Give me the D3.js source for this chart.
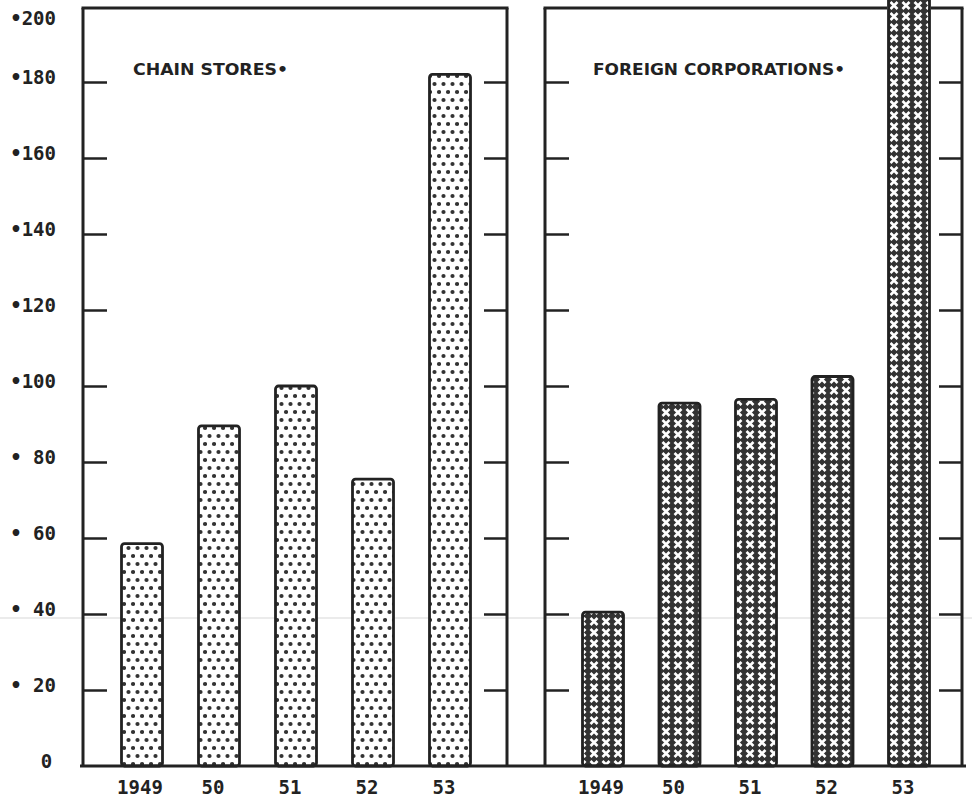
<!DOCTYPE html>
<html>
<head>
<meta charset="utf-8">
<script src="https://cdn.jsdelivr.net/npm/d3@7"></script>
<style>
  body { margin: 0; background: #fff; }
  svg { display: block; }
</style>
</head>
<body>
<div id="chart"></div>
<script>
// data
var years = ["1949", "50", "51", "52", "53"];
var chainStores = [58.5, 89.5, 100, 75.5, 182];
var foreignCorps = [40.5, 95.5, 96.5, 102.5, 212];
var yTicks = [0, 20, 40, 60, 80, 100, 120, 140, 160, 180, 200];
var titles = ["CHAIN STORES\u2022", "FOREIGN CORPORATIONS\u2022"];

var svgWidth = 972;
var svgHeight = 802;
var ink = "#222";

var svg = d3.select("#chart")
  .append("svg")
  .attr("width", svgWidth)
  .attr("height", svgHeight);

// patterns: dots for chain stores, white crosses for foreign corporations
var defs = svg.append("defs");

var dots = defs.append("pattern")
  .attr("id", "dots")
  .attr("patternUnits", "userSpaceOnUse")
  .attr("width", 9)
  .attr("height", 16);
dots.append("rect").attr("width", 9).attr("height", 16).attr("fill", "#fff");
dots.append("circle").attr("cx", 2.5).attr("cy", 4).attr("r", 2.1).attr("fill", "#333");
dots.append("circle").attr("cx", 7).attr("cy", 12).attr("r", 2.1).attr("fill", "#333");

var cross = defs.append("pattern")
  .attr("id", "cross")
  .attr("patternUnits", "userSpaceOnUse")
  .attr("width", 12)
  .attr("height", 11);
cross.append("rect").attr("width", 12).attr("height", 11).attr("fill", "#333");
cross.append("path")
  .attr("d", "M2.5,2 L9.5,9 M9.5,2 L2.5,9")
  .attr("stroke", "#fff")
  .attr("stroke-width", 2.6);

// y scale shared by both panels
var yScale = d3.scaleLinear()
  .domain([0, 200])
  .range([766, 6]);

var panels = [
  { left: 83, right: 507, xr: [142, 450], values: chainStores, fill: "url(#dots)", title: titles[0], tx: 133, tw: 155 },
  { left: 545, right: 962, xr: [603, 909], values: foreignCorps, fill: "url(#cross)", title: titles[1], tx: 593, tw: 252 }
];

// faint scan line
svg.append("line")
  .attr("x1", 0).attr("x2", svgWidth)
  .attr("y1", 618).attr("y2", 618)
  .attr("stroke", "#e4e4e4")
  .attr("stroke-width", 1.5);

var inner = yTicks.filter(d => d > 0 && d < 200);

panels.forEach(function(p) {
  var xScale = d3.scalePoint()
    .domain(years)
    .range(p.xr);

  var g = svg.append("g");

  // bars
  g.selectAll("rect.bar")
    .data(p.values)
    .enter()
    .append("rect")
    .attr("class", "bar")
    .attr("x", (d, i) => xScale(years[i]) - 20.5)
    .attr("y", d => yScale(d))
    .attr("width", 41)
    .attr("height", d => yScale(0) - yScale(d))
    .attr("rx", 3)
    .attr("fill", p.fill)
    .attr("stroke", ink)
    .attr("stroke-width", 2.8);

  // panel frame (open at top where a bar pokes through)
  var top = yScale(200) + 2;
  var frame = g.append("g")
    .attr("stroke", ink)
    .attr("stroke-width", 3)
    .attr("fill", "none");
  frame.append("line").attr("x1", p.left).attr("x2", p.left).attr("y1", top).attr("y2", yScale(0));
  frame.append("line").attr("x1", p.right).attr("x2", p.right).attr("y1", top).attr("y2", yScale(0));
  var tall = p.values.map((v, i) => [v, xScale(years[i])]).filter(d => yScale(d[0]) < top);
  var segs = [[p.left - 1.5, p.right + 1.5]];
  tall.forEach(function(t) {
    var a = t[1] - 22, b = t[1] + 22;
    segs = segs.flatMap(s => (b < s[0] || a > s[1]) ? [s] : [[s[0], a], [b, s[1]]]);
  });
  segs.forEach(function(s) {
    frame.append("line").attr("x1", s[0]).attr("x2", s[1]).attr("y1", top).attr("y2", top);
  });

  // inner tick marks on both sides
  g.append("g")
    .attr("transform", `translate(${p.left}, 0)`)
    .call(d3.axisRight(yScale).tickValues(inner).tickSize(24).tickFormat(""))
    .call(a => a.select(".domain").remove())
    .call(a => a.selectAll("line").attr("stroke", ink).attr("stroke-width", 2.5));

  g.append("g")
    .attr("transform", `translate(${p.right}, 0)`)
    .call(d3.axisLeft(yScale).tickValues(inner).tickSize(23).tickFormat(""))
    .call(a => a.select(".domain").remove())
    .call(a => a.selectAll("line").attr("stroke", ink).attr("stroke-width", 2.5));

  // year labels
  g.selectAll("text.year")
    .data(years)
    .enter()
    .append("text")
    .attr("class", "year")
    .attr("x", d => xScale(d) - (d.length > 2 ? 2 : 6))
    .attr("y", 794)
    .attr("text-anchor", "middle")
    .attr("font-family", "DejaVu Sans Mono, monospace")
    .attr("font-weight", "bold")
    .attr("font-size", "19px")
    .attr("fill", ink)
    .text(d => d);

  // panel title
  g.append("text")
    .attr("x", p.tx)
    .attr("y", 75)
    .attr("textLength", p.tw)
    .attr("lengthAdjust", "spacingAndGlyphs")
    .attr("font-family", "DejaVu Sans Condensed, DejaVu Sans, sans-serif")
    .attr("font-weight", "bold")
    .attr("font-size", "16px")
    .attr("fill", ink)
    .text(p.title);
});

// continuous baseline
svg.append("line")
  .attr("x1", 80).attr("x2", 966)
  .attr("y1", yScale(0)).attr("y2", yScale(0))
  .attr("stroke", ink)
  .attr("stroke-width", 3);

// y axis labels on the far left (sit a little above their ticks; top one pushed into view)
var yAxis = svg.append("g")
  .attr("transform", "translate(56, 0)")
  .call(d3.axisLeft(yScale).tickValues(yTicks).tickSize(0).tickPadding(0)
    .tickFormat(d => d === 0 ? "0" : (d >= 100 ? "\u2022" : "\u2022 ") + d));
yAxis.select(".domain").remove();
yAxis.selectAll("text")
  .attr("font-family", "DejaVu Sans Mono, monospace")
  .attr("font-weight", "bold")
  .attr("font-size", "19px")
  .attr("fill", ink)
  .attr("dy", "0.1em");
yAxis.selectAll(".tick")
  .filter(d => d === 0)
  .select("text")
  .attr("dx", "-0.2em");
yAxis.selectAll(".tick")
  .filter(d => d === 200)
  .select("text")
  .attr("dy", "0.95em");
</script>
</body>
</html>
